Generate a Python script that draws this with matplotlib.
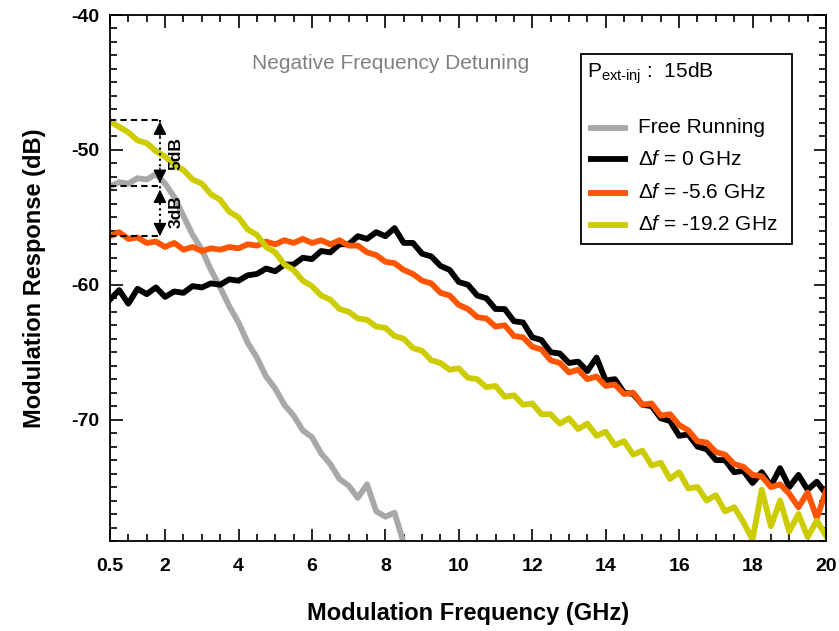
import numpy as np
import matplotlib
matplotlib.use("Agg")
from matplotlib import pyplot as plt
from matplotlib.patches import Rectangle
from matplotlib.ticker import MultipleLocator

plt.rcParams["font.family"] = ["Liberation Sans", "DejaVu Sans"]
plt.rcParams["mathtext.fontset"] = "custom"
plt.rcParams["mathtext.rm"] = "Liberation Sans"
plt.rcParams["mathtext.it"] = "Liberation Sans:italic"
plt.rcParams["axes.unicode_minus"] = False

# 频率轴 (GHz)
freq = np.arange(0.5, 20.01, 0.25)
freq_free = np.arange(0.5, 8.51, 0.25)

# 各曲线的调制响应 (dB)
free_running = [
    -52.7, -52.4, -52.5, -52.1, -52.2, -51.8, -52.5, -53.5,
    -54.9, -56.3, -57.4, -58.9, -60.2, -61.6, -62.8, -64.3,
    -65.4, -66.8, -67.7, -68.9, -69.7, -70.8, -71.3, -72.5,
    -73.3, -74.4, -74.9, -75.8, -74.8, -76.8, -77.2, -76.9,
    -79.2,
]
det_0 = [
    -61.1, -60.4, -61.4, -60.3, -60.7, -60.2, -60.9, -60.5,
    -60.6, -60.1, -60.2, -59.9, -60.0, -59.6, -59.7, -59.3,
    -59.2, -58.8, -59.0, -58.5, -58.5, -58.0, -58.1, -57.5,
    -57.6, -57.0, -57.0, -56.4, -56.6, -56.1, -56.4, -55.8,
    -56.9, -56.9, -57.7, -57.9, -58.6, -58.9, -59.8, -60.0,
    -60.8, -61.0, -61.8, -61.8, -62.7, -62.8, -63.9, -64.1,
    -65.0, -65.1, -65.8, -65.7, -66.4, -65.4, -67.1, -67.0,
    -68.0, -68.1, -68.9, -69.0, -69.9, -70.1, -71.2, -71.1,
    -72.0, -72.2, -73.0, -73.0, -73.9, -73.8, -74.7, -73.9,
    -74.9, -73.6, -75.0, -74.1, -75.2, -74.6, -75.5,
]
det_56 = [
    -56.4, -56.1, -56.6, -56.5, -56.9, -56.8, -57.2, -56.9,
    -57.4, -57.2, -57.5, -57.3, -57.4, -57.2, -57.3, -57.0,
    -57.1, -56.8, -57.0, -56.7, -56.9, -56.6, -56.9, -56.7,
    -57.0, -56.7, -57.1, -57.1, -57.6, -57.8, -58.3, -58.4,
    -58.9, -59.2, -59.7, -59.9, -60.6, -60.8, -61.5, -61.8,
    -62.4, -62.5, -63.1, -63.0, -63.8, -63.9, -64.6, -64.8,
    -65.6, -65.8, -66.5, -66.3, -67.0, -66.8, -67.5, -67.4,
    -68.1, -68.0, -68.9, -68.8, -69.7, -69.6, -70.4, -70.8,
    -71.6, -71.7, -72.4, -72.6, -73.3, -73.5, -74.1, -74.2,
    -75.0, -74.8, -75.5, -76.5, -75.4, -77.3, -75.3,
]
det_192 = [
    -47.9, -48.3, -48.7, -49.3, -49.5, -50.1, -50.5, -51.1,
    -51.5, -52.2, -52.5, -53.3, -53.7, -54.6, -55.0, -55.9,
    -56.3, -57.2, -57.6, -58.5, -58.9, -59.7, -60.1, -60.8,
    -61.1, -61.8, -62.0, -62.5, -62.6, -63.1, -63.2, -63.8,
    -64.0, -64.7, -64.9, -65.6, -65.8, -66.3, -66.2, -66.9,
    -67.0, -67.6, -67.5, -68.3, -68.2, -68.9, -68.8, -69.6,
    -69.6, -70.3, -69.9, -70.7, -70.3, -71.2, -70.9, -71.9,
    -71.6, -72.6, -72.3, -73.4, -73.2, -74.4, -73.9, -75.1,
    -75.0, -76.0, -75.6, -76.8, -76.5, -77.6, -78.9, -75.2,
    -77.9, -76.0, -78.3, -77.0, -78.7, -77.5, -78.6,
]
labels = ["Free Running", r"$\mathit{\Delta f}$ = 0 GHz",
          r"$\mathit{\Delta f}$ = -5.6 GHz", r"$\mathit{\Delta f}$ = -19.2 GHz"]
colors = ["#a8a8a8", "black", "#ff5500", "#cccc00"]

# 5dB / 3dB 标注用的三个电平
mark_f = 1.86
levels = [-47.8, -52.7, -56.4]

fig = plt.figure(figsize=(8.39, 6.31), dpi=100)
ax = fig.add_axes([110 / 839, 1 - 541 / 631, 716 / 839, 526 / 631])

series = [(freq_free, free_running), (freq, det_0), (freq, det_56), (freq, det_192)]
handles = []
for (fx, fy), c, lab in zip(series, colors, labels):
    h, = ax.plot(fx, fy, color=c, lw=4.2, label=lab, solid_joinstyle="round")
    handles.append(h)

ax.set_xlim(0.5, 20)
ax.set_ylim(-79, -40)
ax.set_xticks([0.5] + list(range(2, 21, 2)))
ax.set_xticklabels(["0.5"] + [str(i) for i in range(2, 21, 2)])
ax.xaxis.set_minor_locator(MultipleLocator(0.5))
ax.set_yticks([-40, -50, -60, -70])
ax.yaxis.set_minor_locator(MultipleLocator(1))
ax.tick_params(which="both", direction="in", top=True, right=True, width=1.2)
ax.tick_params(which="major", length=9, labelsize=14, pad=8)
ax.tick_params(axis="x", which="major", pad=12)
ax.tick_params(which="minor", length=5)
for t in ax.get_xticklabels() + ax.get_yticklabels():
    t.set_fontweight("bold")
for s in ax.spines.values():
    s.set_linewidth(1.3)

ax.set_xlabel("Modulation Frequency (GHz)", fontsize=17, fontweight="bold", labelpad=20)
ax.set_ylabel("Modulation Response (dB)", fontsize=17, fontweight="bold", labelpad=18)

# 虚线和箭头
for lv in levels:
    ax.plot([0.5, mark_f], [lv, lv], color="black", lw=1.5, ls=(0, (3, 2)))
ax.plot([mark_f, mark_f], [levels[0], levels[2]], color="black", lw=1.5, ls=":")
arr = dict(arrowstyle="-|>", color="black", lw=1, mutation_scale=20, shrinkA=0, shrinkB=0)
ax.annotate("", xy=(mark_f, levels[0] - 0.1), xytext=(mark_f, levels[0] - 1.2), arrowprops=arr)
ax.annotate("", xy=(mark_f, levels[1] + 0.25), xytext=(mark_f, levels[1] + 1.35), arrowprops=arr)
ax.annotate("", xy=(mark_f, levels[1] - 0.25), xytext=(mark_f, levels[1] - 1.35), arrowprops=arr)
ax.annotate("", xy=(mark_f, levels[2]), xytext=(mark_f, levels[2] + 1.1), arrowprops=arr)
ax.text(2.3, (levels[0] + levels[1]) / 2, "5dB", rotation=90, fontsize=12.5,
        fontweight="bold", ha="center", va="center")
ax.text(2.3, (levels[1] + levels[2]) / 2, "3dB", rotation=90, fontsize=12.5,
        fontweight="bold", ha="center", va="center")

ax.text(8.15, -43.6, "Negative Frequency Detuning", color="#808080", fontsize=15,
        ha="center", va="center")

# 图例框（手动绘制）
ax.add_patch(Rectangle((0.658, 0.5646), 0.2945, 0.3613, transform=ax.transAxes,
                       fill=False, lw=1.3, edgecolor="black", zorder=5))
ax.text(0.6662, 0.889, r"P$_{\text{ext-inj}}$ :  15dB", transform=ax.transAxes,
        fontsize=15, ha="left", va="center")
for h, yy in zip(handles, [0.7852, 0.7262, 0.6616, 0.6008]):
    ax.plot([0.6676, 0.7235], [yy, yy], transform=ax.transAxes, color=h.get_color(),
            lw=4.2, solid_capstyle="butt")
    ax.text(0.7374, yy, h.get_label(), transform=ax.transAxes, fontsize=15,
            ha="left", va="center")

fig.savefig("out.png", dpi=100)
